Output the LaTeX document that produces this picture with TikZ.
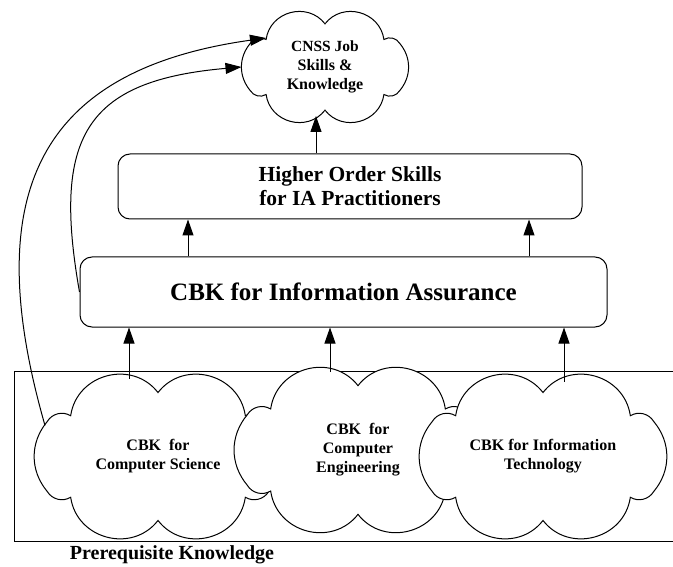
\documentclass[tikz,border=0pt]{standalone}
\usepackage{fontspec}
\setmainfont{Liberation Serif}
\usetikzlibrary{arrows.meta}

% cloud outline round a centre, then its text node
% #1 name, #2 centre, #3 half width, #4 half height, #5 text
\newcommand{\puffcloud}[5]{%
  \draw[fill=white] ([shift={(0.9*#3,-0.43*#4)}]#2)
    to[bend right=40] ([shift={(0.9*#3,0.43*#4)}]#2)
    to[bend right=45] ([shift={(0.71*#3,0.5*#4)}]#2)
    to[bend right=67,looseness=1.2] ([shift={(0,0.785*#4)}]#2)
    to[bend right=67,looseness=1.2] ([shift={(-0.71*#3,0.5*#4)}]#2)
    to[bend right=45] ([shift={(-0.9*#3,0.43*#4)}]#2)
    to[bend right=40] ([shift={(-0.9*#3,-0.43*#4)}]#2)
    to[bend right=45] ([shift={(-0.71*#3,-0.5*#4)}]#2)
    to[bend right=67,looseness=1.2] ([shift={(0,-0.785*#4)}]#2)
    to[bend right=67,looseness=1.2] ([shift={(0.71*#3,-0.5*#4)}]#2)
    to[bend right=45] ([shift={(0.9*#3,-0.43*#4)}]#2) -- cycle;
  \node[cloudtext,minimum width=2*#3,minimum height=2*#4] (#1) at (#2) {#5};
}

\begin{document}
\begin{tikzpicture}[x=1pt,y=1pt,line width=1pt,
    layer/.style={draw,rounded corners=12pt,align=center,inner sep=0pt},
    cloudtext/.style={align=center,inner sep=0pt,
      font=\bfseries\fontsize{16}{19}\selectfont},
    up/.style={-{Triangle[length=16pt,width=11pt]}}]

    \useasboundingbox (0,0) rectangle (673,-567);

    % Prerequisite frame (runs off the right side)
    \draw (673,-371) -- (14,-371) -- (14,-541) -- (673,-541);
    \node[font=\bfseries\fontsize{20}{24}\selectfont] (pre) at (172,-555) {Prerequisite Knowledge};

    % Prerequisite clouds, later ones sit on top
    \puffcloud{cs}{158,-456.5}{123}{81.5}{CBK\ \ for\\Computer Science}
    \puffcloud{ce}{358,-450}{123}{82}{CBK\ \ for\\Computer\\Engineering}
    \puffcloud{it}{543,-456.5}{123}{81.5}{CBK for Information\\Technology}

    % Layers above
    \node[layer,minimum width=527pt,minimum height=70pt,
      font=\bfseries\fontsize{25}{30}\selectfont] (ia) at (343.5,-292)
      {CBK for Information Assurance};
    \node[layer,minimum width=464pt,minimum height=65pt,
      font=\bfseries\fontsize{21.5}{24}\selectfont] (ho) at (350,-186.5)
      {Higher Order Skills\\for IA Practitioners};
    \puffcloud{cnss}{325,-67}{83}{55}{\fontsize{15.5}{19}\selectfont CNSS Job\\Skills \&\\Knowledge}

    % Feet and tips of the arrows
    \coordinate (csup) at ([shift={(-29,78)}]cs.center);
    \coordinate (ceup) at ([shift={(-28,78)}]ce.center);
    \coordinate (itup) at ([shift={(21,75)}]it.center);
    \coordinate (ialeft) at ([xshift=-155.5pt]ia.north);
    \coordinate (iaright) at ([xshift=185.5pt]ia.north);
    \coordinate (houp) at ([xshift=-34pt]ho.north);
    \coordinate (cnssfoot) at ([shift={(-9,-49)}]cnss.center);
    \coordinate (cnssdip) at ([shift={(-59,29)}]cnss.center);
    \coordinate (csside) at ([shift={(-113,31)}]cs.center);

    \foreach \p in {csup,ceup,itup} {
      \draw[up] (\p) -- (\p |- ia.south);
    }
    \foreach \p in {ialeft,iaright} {
      \draw[up] (\p) -- (\p |- ho.south);
    }
    \draw[up] (houp) -- (houp |- cnssfoot);

    % Direct routes to the job skills
    \draw[up] (csside) to[out=106,in=188,looseness=1.35] (cnssdip);
    \draw[up] (ia.west) to[out=100,in=185,looseness=1.45] (cnss.west);

\end{tikzpicture}
\end{document}
